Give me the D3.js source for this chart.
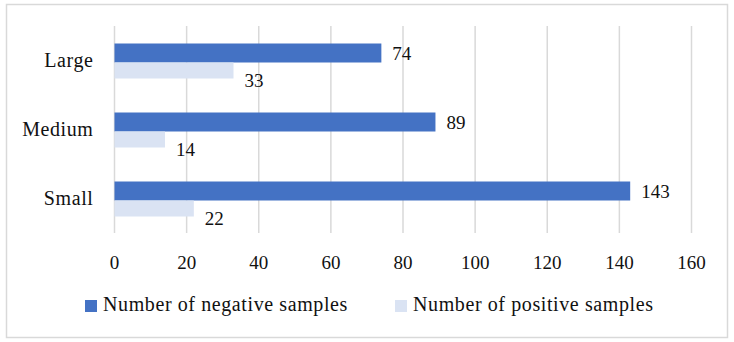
<!DOCTYPE html>
<html lang="en">
<head>
  <meta charset="UTF-8">
  <script src="https://cdn.jsdelivr.net/npm/d3@7"></script>
  <style>
    body { margin: 0; background: #fff; }
    text { font-family: "Liberation Serif", "DejaVu Serif", serif; fill: #111; }
    .word { font-size: 20px; letter-spacing: 0.6px; }
    .num { font-size: 19px; }
  </style>
</head>
<body>
  <svg width="734" height="342"></svg>
  <script>
    // data
    var categories = ["Large", "Medium", "Small"];
    var negative = [74, 89, 143];
    var positive = [33, 14, 22];
    var seriesNames = ["Number of negative samples", "Number of positive samples"];
    var xTicks = [0, 20, 40, 60, 80, 100, 120, 140, 160];

    var colors = ["#4472c4", "#dae3f3"];
    var svg = d3.select("svg");
    var margin = {top: 26, left: 114.5, right: 42.5, bottom: 109};
    var width = 734 - margin.left - margin.right;
    var height = 342 - margin.top - margin.bottom;

    // chart border
    svg.append("rect")
      .attr("x", 6.5).attr("y", 4.5)
      .attr("width", 721).attr("height", 333)
      .attr("fill", "none").attr("stroke", "#d9d9d9").attr("stroke-width", 1.5);

    var g = svg.append("g").attr("transform", "translate(" + margin.left + "," + margin.top + ")");

    var x = d3.scaleLinear().domain([0, 160]).range([0, width]);
    var y = d3.scaleBand().domain(categories).range([0, height]);
    var barH = [19, 16]; // negative above the middle line, positive below
    function mid(d) { return y(d) + y.bandwidth() / 2 + 2; }

    // grid lines
    g.selectAll(".grid").data(xTicks).enter().append("line")
      .attr("x1", function(d){ return x(d); })
      .attr("x2", function(d){ return x(d); })
      .attr("y1", 0).attr("y2", height)
      .attr("stroke", "#d9d9d9").attr("stroke-width", 1.5);

    // tick labels
    g.selectAll(".tick-label").data(xTicks).enter().append("text")
      .attr("class", "num")
      .attr("x", function(d){ return x(d); })
      .attr("y", height + 36)
      .attr("text-anchor", "middle")
      .text(function(d){ return d; });

    // category labels
    g.selectAll(".cat").data(categories).enter().append("text")
      .attr("class", "word")
      .attr("x", -21)
      .attr("y", function(d){ return y(d) + y.bandwidth() / 2 + 6.5; })
      .attr("text-anchor", "end")
      .text(function(d){ return d; });

    var series = [negative, positive];
    series.forEach(function(vals, s) {
      var gs = g.selectAll(".s" + s).data(categories).enter().append("g");
      gs.append("rect")
        .attr("x", 0)
        .attr("y", function(d){ return s === 0 ? mid(d) - barH[0] : mid(d); })
        .attr("width", function(d, i){ return x(vals[i]); })
        .attr("height", barH[s])
        .attr("fill", colors[s]);
      gs.append("text")
        .attr("class", "num")
        .attr("x", function(d, i){ return x(vals[i]) + 11; })
        .attr("y", function(d){ return s === 0 ? mid(d) - 2.5 : mid(d) + 24; })
        .text(function(d, i){ return vals[i]; });
    });

    // legend
    var legendX = [85, 395];
    var lg = svg.selectAll(".legend").data(seriesNames).enter().append("g")
      .attr("transform", function(d, i){ return "translate(" + legendX[i] + ",300)"; });
    lg.append("rect").attr("width", 12).attr("height", 12)
      .attr("fill", function(d, i){ return colors[i]; });
    lg.append("text").attr("class", "word").attr("x", 18).attr("y", 11)
      .text(function(d){ return d; });
  </script>
</body>
</html>
